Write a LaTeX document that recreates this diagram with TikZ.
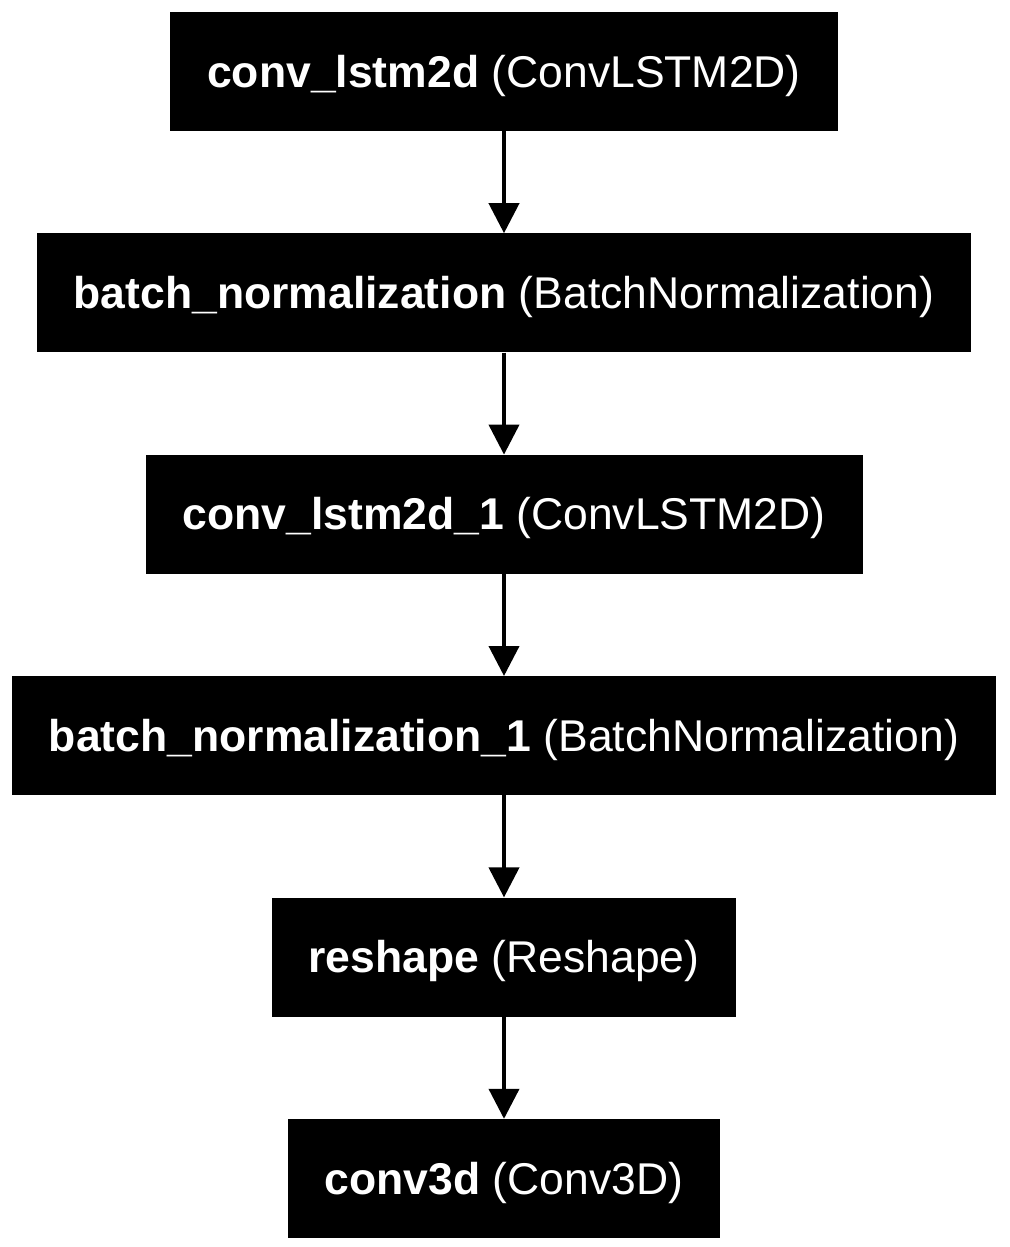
\documentclass[tikz,border=0pt]{standalone}
\usepackage{fontspec}
\setmainfont{Liberation Sans}
\usetikzlibrary{positioning,arrows.meta}

\begin{document}
\begin{tikzpicture}[
  x=1pt, y=1pt,
  node distance=102pt,
  every node/.style={font=\fontsize{44.5}{53}\selectfont},
  layer/.style={fill=black, text=white, minimum height=119pt, inner xsep=37pt, inner ysep=0pt,
    text height=33pt, text depth=2pt},
  flow/.style={line width=4pt, -{Triangle[length=30pt,width=30pt]}}
]
\useasboundingbox (0,0) rectangle (1009,-1247);
\node[layer] (lstm1) at (504,-71.5) {\textbf{conv\_lstm2d} (ConvLSTM2D)};
\node[layer, below=of lstm1] (bn1) {\textbf{batch\_normalization} (BatchNormalization)};
\node[layer, below=of bn1] (lstm2) {\textbf{conv\_lstm2d\_1} (ConvLSTM2D)};
\node[layer, below=of lstm2] (bn2) {\textbf{batch\_normalization\_1} (BatchNormalization)};
\node[layer, below=of bn2] (reshape) {\textbf{reshape} (Reshape)};
\node[layer, below=of reshape] (conv3d) {\textbf{conv3d} (Conv3D)};
% connections
\foreach \a/\b in {lstm1/bn1, bn1/lstm2, lstm2/bn2, bn2/reshape, reshape/conv3d}
  \draw[flow] (\a) -- (\b);
\end{tikzpicture}
\end{document}
